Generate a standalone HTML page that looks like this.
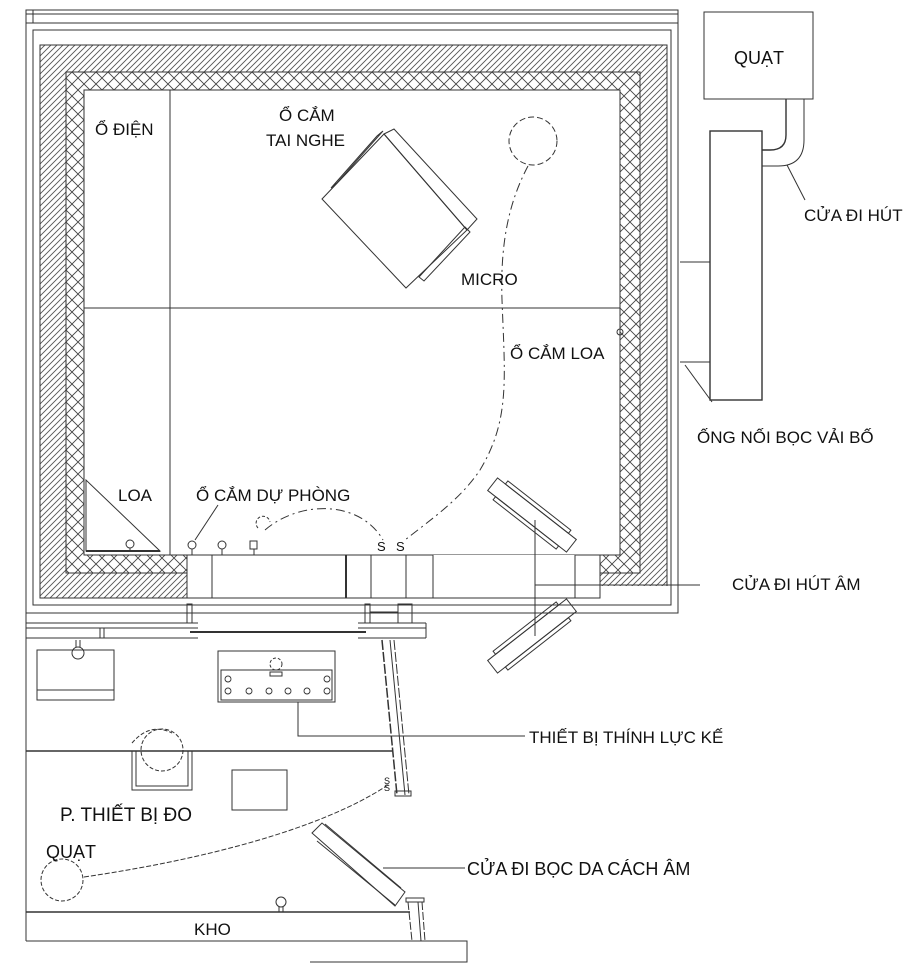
<!DOCTYPE html>
<html><head><meta charset="utf-8">
<style>
html,body{margin:0;padding:0;background:#fff;}
svg{display:block;}
text{font-family:"Liberation Sans",sans-serif;fill:#111;}
</style></head>
<body>
<svg width="908" height="974" viewBox="0 0 908 974" xmlns="http://www.w3.org/2000/svg">
<defs>
<pattern id="diag" patternUnits="userSpaceOnUse" width="6" height="6">
<rect width="6" height="6" fill="#fff"/>
<path d="M-1,7 L7,-1 M-1,1 L1,-1 M5,7 L7,5" stroke="#555" stroke-width="0.9"/>
</pattern>
<pattern id="cross" patternUnits="userSpaceOnUse" width="12" height="12">
<rect width="12" height="12" fill="#fff"/>
<path d="M0,0 L12,12 M12,0 L0,12" stroke="#444" stroke-width="0.9"/>
</pattern>
</defs>
<g fill="none" stroke="#333" stroke-width="1">
<rect x="26" y="10" width="652" height="603"/>
<line x1="26" y1="14" x2="678" y2="14"/>
<line x1="26" y1="23" x2="678" y2="23"/>
<line x1="33" y1="10" x2="33" y2="23"/>
<rect x="33" y="30" width="638" height="575"/>
</g>
<rect x="40" y="45" width="627" height="553" fill="url(#diag)" stroke="#333"/>
<rect x="66" y="72" width="574" height="501" fill="url(#cross)" stroke="#333"/>
<rect x="84" y="90" width="536" height="465" fill="#fff" stroke="#333"/>
<rect x="187" y="555" width="413" height="44" fill="#fff" stroke="none"/>
<rect x="600" y="586" width="68" height="13" fill="#fff" stroke="none"/>
<g fill="none" stroke="#333" stroke-width="1">
<line x1="600" y1="585" x2="667" y2="585"/>
<rect x="187" y="555" width="246" height="43"/>
<rect x="575" y="555" width="25" height="43"/>
<line x1="212" y1="555" x2="212" y2="598"/>
<line x1="346" y1="555" x2="346" y2="598" stroke-width="2"/>
<line x1="371" y1="555" x2="371" y2="598"/>
<line x1="406" y1="555" x2="406" y2="598"/>
<line x1="40" y1="598" x2="600" y2="598"/>
<line x1="575" y1="555" x2="620" y2="555"/>
<line x1="535" y1="520" x2="535" y2="636"/>
<line x1="535" y1="585" x2="700" y2="585"/>
<line x1="84" y1="308" x2="620" y2="308"/>
<line x1="170" y1="90" x2="170" y2="555"/>
<path d="M86,480 L86,551 L160,551 Z"/>
<line x1="86" y1="551" x2="160" y2="551" stroke-width="2"/>
<circle cx="130" cy="544" r="4"/><line x1="130" y1="548" x2="130" y2="551"/>
<circle cx="192" cy="545" r="4"/><line x1="192" y1="549" x2="192" y2="555"/>
<circle cx="222" cy="545" r="4"/><line x1="222" y1="549" x2="222" y2="555"/>
<rect x="250" y="541" width="7" height="8"/><line x1="254" y1="549" x2="254" y2="555"/>
<line x1="195" y1="540" x2="218" y2="505"/>
<circle cx="620" cy="332" r="3"/>
<polygon points="322,199 384,134 467,230 406,288"/>
<polygon points="384,134 394,129 477,219 467,230"/>
<polygon points="331,188 377,136 383,131 337,183"/>
<polygon points="419,277 465,227 470,232 424,281"/>
<circle cx="533" cy="141" r="24" stroke-dasharray="6,3"/>
<path d="M528,166 C510,200 500,240 502,300 C505,380 510,420 480,470 C460,500 430,520 405,540" stroke-dasharray="9,4,2,4"/>
<path d="M265,530 C300,500 360,500 383,540" stroke-dasharray="9,4,2,4"/>
<path d="M258,528 a7,7 0 1 1 12,-6" stroke-dasharray="3,2"/>
<g transform="translate(532,515) rotate(38)">
<rect x="-50" y="-8" width="100" height="16"/>
<rect x="-40" y="-12" width="80" height="4"/>
<rect x="-40" y="8" width="80" height="4"/>
</g>
<g transform="translate(532,636) rotate(-38)">
<rect x="-50" y="-8" width="100" height="16"/>
<rect x="-40" y="-12" width="80" height="4"/>
<rect x="-40" y="8" width="80" height="4"/>
</g>
<rect x="704" y="12" width="109" height="87"/>
<rect x="710" y="131" width="52" height="269" stroke-width="1.4"/>
<path d="M786,99 V135 Q786,150 770,150 H762" stroke-width="1.4"/>
<path d="M804,99 V140 Q804,166 778,166 H762"/>
<line x1="680" y1="262" x2="710" y2="262"/>
<line x1="680" y1="362" x2="710" y2="362"/>
<line x1="787" y1="165" x2="805" y2="200"/>
<line x1="685" y1="365" x2="712" y2="402"/>
<line x1="26" y1="613" x2="26" y2="941"/>
<line x1="26" y1="623" x2="198" y2="623"/>
<line x1="26" y1="628" x2="198" y2="628"/>
<line x1="26" y1="638" x2="198" y2="638"/>
<line x1="358" y1="623" x2="426" y2="623"/>
<line x1="358" y1="628" x2="426" y2="628"/>
<line x1="358" y1="638" x2="426" y2="638"/>
<line x1="426" y1="623" x2="426" y2="638"/>
<line x1="190" y1="632" x2="366" y2="632" stroke-width="2"/>
<rect x="100" y="628" width="4" height="10"/>
<rect x="187" y="604" width="5" height="19"/>
<rect x="365" y="604" width="5" height="19"/>
<rect x="398" y="604" width="14" height="19"/>
<line x1="370" y1="612" x2="398" y2="612"/>
<rect x="37" y="650" width="77" height="50"/>
<line x1="37" y1="690" x2="114" y2="690"/>
<circle cx="78" cy="653" r="6"/>
<line x1="76" y1="640" x2="76" y2="647"/><line x1="80" y1="640" x2="80" y2="647"/>
<rect x="218" y="651" width="117" height="51"/>
<rect x="221" y="670" width="111" height="30"/>
<circle cx="276" cy="664" r="6" stroke-dasharray="3,2"/>
<rect x="270" y="672" width="12" height="4"/>
<g stroke-width="0.9">
<circle cx="228" cy="679" r="3"/><circle cx="327" cy="679" r="3"/>
<circle cx="228" cy="691" r="3"/><circle cx="249" cy="691" r="3"/><circle cx="269" cy="691" r="3"/><circle cx="288" cy="691" r="3"/><circle cx="307" cy="691" r="3"/><circle cx="327" cy="691" r="3"/>
</g>
<polyline points="298,702 298,736 525,736"/>
<line x1="382" y1="640" x2="397" y2="795" stroke-width="1.5" stroke-dasharray="10,2"/>
<line x1="390" y1="640" x2="405" y2="795"/>
<line x1="394" y1="640" x2="409" y2="795" stroke-dasharray="10,2"/>
<rect x="395" y="791" width="16" height="5"/>
<line x1="26" y1="751" x2="392" y2="751" stroke-width="1.5"/>
<circle cx="162" cy="750" r="21" stroke-dasharray="4,2"/>
<rect x="132" y="751" width="60" height="39"/>
<rect x="136" y="751" width="52" height="35"/>
<path d="M132,743 Q150,722 172,733" stroke-dasharray="4,2"/>
<rect x="232" y="770" width="55" height="40"/>
<circle cx="62" cy="880" r="21" stroke-dasharray="4,2"/>
<path d="M84,877 C200,860 320,830 388,785" stroke-dasharray="5,2"/>
<polygon points="312,833 322,823 405,892 395,906"/>
<line x1="317" y1="841" x2="395" y2="905"/>
<line x1="325" y1="824" x2="401" y2="888"/>
<line x1="383" y1="868" x2="465" y2="868"/>
<line x1="26" y1="912" x2="410" y2="912" stroke-width="1.5"/>
<rect x="406" y="898" width="18" height="4"/>
<line x1="408" y1="902" x2="412" y2="941" stroke-dasharray="8,2"/>
<line x1="418" y1="902" x2="421" y2="941"/>
<line x1="422" y1="902" x2="425" y2="941" stroke-dasharray="8,2"/>
<circle cx="281" cy="902" r="5"/><line x1="279" y1="907" x2="279" y2="912"/><line x1="283" y1="907" x2="283" y2="912"/>
<polyline points="26,941 467,941 467,962 310,962"/>
</g>
<g font-size="17">
<text x="95" y="135">Ổ ĐIỆN</text>
<text x="279" y="121">Ổ CẮM</text>
<text x="266" y="146">TAI NGHE</text>
<text x="461" y="285">MICRO</text>
<text x="510" y="359">Ổ CẮM LOA</text>
<text x="118" y="501">LOA</text>
<text x="196" y="501">Ổ CẮM DỰ PHÒNG</text>
<text x="377" y="551" font-size="13">S</text>
<text x="396" y="551" font-size="13">S</text>
<text x="734" y="64" font-size="18">QUẠT</text>
<text x="804" y="221">CỬA ĐI HÚT</text>
<text x="697" y="443">ỐNG NỐI BỌC VẢI BỐ</text>
<text x="732" y="590">CỬA ĐI HÚT ÂM</text>
<text x="529" y="743">THIẾT BỊ THÍNH LỰC KẾ</text>
<text x="60" y="821" font-size="19">P. THIẾT BỊ ĐO</text>
<text x="46" y="858" font-size="18">QUẠT</text>
<text x="467" y="875" font-size="18">CỬA ĐI BỌC DA CÁCH ÂM</text>
<text x="194" y="935">KHO</text>
<text x="384" y="784" font-size="9">S</text>
<text x="384" y="791" font-size="9">S</text>
</g>
</svg>
</body></html>
